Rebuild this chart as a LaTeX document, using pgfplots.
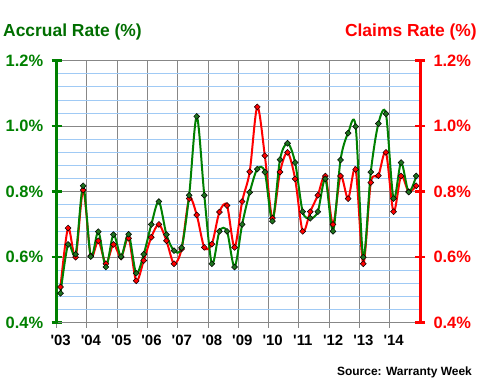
\documentclass[border=0pt]{standalone}
\usepackage{pgfplots}
\pgfplotsset{compat=1.18}
\usepackage{pgfplotstable}
\usepackage{fontspec}
\setmainfont{Liberation Sans}
\definecolor{accgreen}{RGB}{0,128,0}
\definecolor{mkgreen}{RGB}{30,115,30}
\definecolor{titlegreen}{RGB}{0,110,0}
\definecolor{clmred}{RGB}{255,0,0}
\definecolor{gridblue}{RGB}{160,202,245}
\definecolor{gridgray}{RGB}{135,135,135}

\pgfplotstableread{
x acc clm
2003.125 0.490 0.509
2003.375 0.639 0.689
2003.625 0.609 0.600
2003.875 0.818 0.805
2004.125 0.602 0.604
2004.375 0.678 0.650
2004.625 0.570 0.580
2004.875 0.669 0.639
2005.125 0.602 0.600
2005.375 0.670 0.658
2005.625 0.551 0.528
2005.875 0.609 0.590
2006.125 0.700 0.661
2006.375 0.770 0.700
2006.625 0.669 0.650
2006.875 0.620 0.580
2007.125 0.629 0.625
2007.375 0.789 0.779
2007.625 1.030 0.729
2007.875 0.789 0.630
2008.125 0.580 0.640
2008.375 0.679 0.738
2008.625 0.679 0.758
2008.875 0.570 0.630
2009.125 0.700 0.770
2009.375 0.798 0.861
2009.625 0.869 1.059
2009.875 0.860 0.910
2010.125 0.710 0.719
2010.375 0.898 0.860
2010.625 0.948 0.920
2010.875 0.889 0.839
2011.125 0.739 0.679
2011.375 0.719 0.739
2011.625 0.739 0.789
2011.875 0.839 0.848
2012.125 0.679 0.700
2012.375 0.897 0.848
2012.625 0.979 0.779
2012.875 0.999 0.868
2013.125 0.600 0.580
2013.375 0.860 0.828
2013.625 1.008 0.849
2013.875 1.038 0.920
2014.125 0.779 0.739
2014.375 0.889 0.848
2014.625 0.799 0.800
2014.875 0.848 0.818
}\data

\begin{document}
\begin{tikzpicture}
\path[use as bounding box] (0,0) rectangle (480bp,380bp);
\begin{axis}[
  at={(56.7bp,57.3bp)}, anchor=south west,
  scale only axis, width=363.3bp, height=262bp,
  xmin=2003, xmax=2015, ymin=0.4, ymax=1.2,
  axis y line*=left, axis x line*=bottom,
  axis line style={-},
  x axis line style={gridgray, line width=1bp},
  y axis line style={accgreen, line width=3bp},
  xtick={2003,...,2014},
  xticklabels={\textquotesingle03,\textquotesingle04,\textquotesingle05,\textquotesingle06,\textquotesingle07,\textquotesingle08,\textquotesingle09,\textquotesingle10,\textquotesingle11,\textquotesingle12,\textquotesingle13,\textquotesingle14},
  ytick={0.4,0.6,0.8,1.0,1.2},
  minor ytick={0.44,0.48,0.52,0.56,0.64,0.68,0.72,0.76,0.84,0.88,0.92,0.96,1.04,1.08,1.12,1.16},
  minor tick length=0pt,
  tick align=center, major tick length=10bp,
  xmajorgrids, ymajorgrids, yminorgrids,
  major grid style={gridgray, line width=1bp},
  minor grid style={gridblue, line width=1bp},
  x tick style={gridgray, line width=1bp},
  y tick style={accgreen, line width=2.5bp},
  /pgf/number format/assume math mode=true,
  yticklabel={\pgfmathprintnumber[fixed,fixed zerofill,precision=1]{\tick}\%},
  yticklabel style={text=accgreen, font=\fontsize{16.5}{18}\selectfont\bfseries, xshift=-5bp},
  xticklabel style={text=black, font=\fontsize{15}{17}\selectfont\bfseries, xshift=4bp, yshift=-4bp},
  clip=false,
]
\addplot[clmred, line width=2bp, smooth, mark=square*,
  mark options={rotate=45, fill=clmred, draw=black, line width=0.5bp, mark size=2.1bp, solid}]
  table[x=x, y=clm] {\data};
\addplot[accgreen, line width=2bp, smooth, mark=square*,
  mark options={rotate=45, fill=mkgreen, draw=black, line width=0.5bp, mark size=2.1bp, solid}]
  table[x=x, y=acc] {\data};
\end{axis}
\begin{axis}[
  at={(56.7bp,57.3bp)}, anchor=south west,
  scale only axis, width=363.3bp, height=262bp,
  xmin=2003, xmax=2015, ymin=0.4, ymax=1.2,
  axis y line*=right, axis x line=none,
  axis line style={-},
  y axis line style={clmred, line width=3bp},
  ytick={0.4,0.6,0.8,1.0,1.2},
  tick align=center, major tick length=10bp,
  y tick style={clmred, line width=2.5bp},
  /pgf/number format/assume math mode=true,
  yticklabel={\pgfmathprintnumber[fixed,fixed zerofill,precision=1]{\tick}\%},
  yticklabel style={text=clmred, font=\fontsize{16.5}{18}\selectfont\bfseries, xshift=5bp},
]
\end{axis}
\node[anchor=base west, text=titlegreen, font=\fontsize{17.5}{20}\selectfont\bfseries, inner sep=0pt] at (3bp,343bp) {Accrual Rate (\%)};
\node[anchor=base east, text=clmred, font=\fontsize{17.5}{20}\selectfont\bfseries, inner sep=0pt] at (477bp,343bp) {Claims Rate (\%)};
\node[anchor=base east, text=black, font=\fontsize{12}{14}\selectfont\bfseries, inner sep=0pt] at (472bp,5bp) {Source: Warranty Week};
\end{tikzpicture}
\end{document}
